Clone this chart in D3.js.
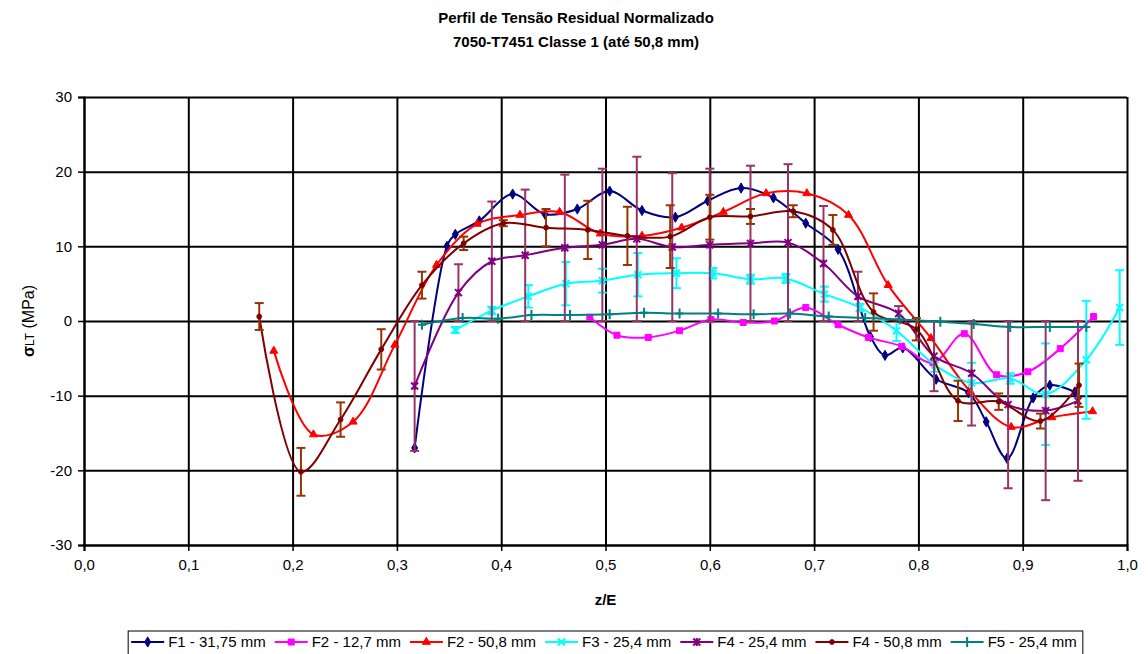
<!DOCTYPE html>
<html>
<head>
<meta charset="utf-8">
<script src="https://cdn.jsdelivr.net/npm/d3@7/dist/d3.min.js"></script>
<style>
	body { margin: 0; background: #fff; }
	svg { font-family: Arial, "Liberation Sans", sans-serif; }
</style>
</head>
<body>
<svg id="chart" width="1148" height="654"></svg>
<script>
// axis ticks
const xTicks = [0, 0.1, 0.2, 0.3, 0.4, 0.5, 0.6, 0.7, 0.8, 0.9, 1.0];
const yTicks = [-30, -20, -10, 0, 10, 20, 30];

// F1 - 31,75 mm
const f1Z = [0.317, 0.348, 0.356, 0.379, 0.411, 0.442, 0.473, 0.504, 0.535, 0.567, 0.598, 0.630, 0.661, 0.692, 0.723, 0.754, 0.768, 0.785, 0.817, 0.848, 0.865, 0.885, 0.910, 0.926, 0.950];
const f1S = [-17.0, 10.0, 11.6, 13.4, 17.0, 14.3, 15.0, 17.4, 14.8, 13.9, 16.1, 17.8, 16.5, 13.1, 9.6, -2.1, -4.6, -3.6, -7.8, -9.6, -13.5, -18.4, -10.3, -8.6, -9.5];

// F2 - 12,7 mm
const f2aZ = [0.485, 0.511, 0.541, 0.571, 0.601, 0.632, 0.662, 0.692, 0.723, 0.752, 0.784, 0.814, 0.844, 0.875, 0.905, 0.936, 0.968];
const f2aS = [0.5, -1.9, -2.2, -1.3, 0.2, -0.2, 0.0, 1.8, -0.5, -2.2, -3.4, -5.6, -1.7, -7.2, -6.8, -3.7, 0.6];

// F2 - 50,8 mm
const f2bZ = [0.182, 0.220, 0.258, 0.298, 0.338, 0.377, 0.418, 0.456, 0.495, 0.535, 0.573, 0.613, 0.654, 0.693, 0.733, 0.771, 0.812, 0.850, 0.889, 0.928, 0.967];
const f2bS = [-4.0, -15.2, -13.5, -3.2, 7.5, 13.0, 14.2, 14.6, 11.7, 11.4, 12.5, 14.6, 17.1, 17.1, 14.2, 4.8, -2.3, -9.5, -14.2, -12.9, -12.1];

// F3 - 25,4 mm
const f3Z = [0.356, 0.391, 0.426, 0.462, 0.497, 0.531, 0.568, 0.603, 0.639, 0.673, 0.710, 0.744, 0.779, 0.816, 0.851, 0.888, 0.922, 0.961, 0.993];
const f3S = [-1.2, 1.4, 3.3, 5.0, 5.4, 6.2, 6.4, 6.4, 5.6, 5.7, 3.6, 1.8, -1.3, -5.9, -8.3, -7.7, -9.8, -5.2, 1.8];
const f3Err = [0.4, 0.5, 1.5, 2.9, 1.6, 2.9, 2.0, 0.7, 0.6, 0.6, 1.0, 0.5, 1.4, 0.9, 2.7, 0.7, 6.8, 7.9, 5.0];

// F4 - 25,4 mm
const f4aZ = [0.317, 0.359, 0.391, 0.423, 0.461, 0.497, 0.530, 0.564, 0.600, 0.639, 0.675, 0.709, 0.742, 0.781, 0.815, 0.851, 0.886, 0.922, 0.953];
const f4aS = [-8.7, 3.8, 8.0, 8.8, 9.8, 10.2, 11.0, 9.9, 10.2, 10.4, 10.5, 7.7, 3.3, 1.0, -4.7, -7.0, -11.2, -12.0, -10.7];
const f4aErr = [8.7, 3.8, 8.0, 8.8, 9.8, 10.2, 11.0, 9.9, 10.2, 10.4, 10.5, 7.7, 3.3, 1.0, 4.7, 7.0, 11.2, 12.0, 10.7];

// F4 - 50,8 mm
const f4bZ = [0.168, 0.208, 0.246, 0.285, 0.324, 0.364, 0.402, 0.443, 0.483, 0.521, 0.562, 0.600, 0.639, 0.680, 0.718, 0.757, 0.798, 0.838, 0.877, 0.917, 0.954];
const f4bS = [0.6, -20.2, -13.2, -3.8, 4.8, 10.4, 13.1, 12.5, 12.2, 11.4, 11.3, 13.9, 14.0, 14.7, 12.2, 1.2, -1.1, -10.7, -10.8, -13.4, -8.6];
const f4bErr = [1.8, 3.2, 2.3, 2.7, 1.8, 0.9, 0.4, 2.5, 3.9, 3.9, 4.2, 3.0, 1.0, 0.8, 2.0, 2.5, 1.5, 2.7, 1.1, 1.0, 2.9];

// F5 - 25,4 mm
const f5Z = [0.324, 0.363, 0.397, 0.429, 0.466, 0.504, 0.537, 0.571, 0.608, 0.642, 0.677, 0.714, 0.749, 0.782, 0.821, 0.853, 0.888, 0.926, 0.961];
const f5S = [-0.5, 0.4, 0.3, 0.8, 0.8, 0.9, 1.1, 1.0, 1.0, 0.9, 1.0, 0.6, 0.4, 0.2, -0.1, -0.4, -0.8, -0.8, -0.8];

const series = [
	{ label: "F1 - 31,75 mm", z: f1Z, s: f1S, color: "#000080", marker: "diamond" },
	{ label: "F2 - 12,7 mm", z: f2aZ, s: f2aS, color: "#FF00FF", marker: "square" },
	{ label: "F2 - 50,8 mm", z: f2bZ, s: f2bS, color: "#FF0000", marker: "triangle" },
	{ label: "F3 - 25,4 mm", z: f3Z, s: f3S, err: f3Err, errColor: "#00FFFF", color: "#00FFFF", marker: "x" },
	{ label: "F4 - 25,4 mm", z: f4aZ, s: f4aS, err: f4aErr, errColor: "#993366", color: "#800080", marker: "star" },
	{ label: "F4 - 50,8 mm", z: f4bZ, s: f4bS, err: f4bErr, errColor: "#993300", color: "#800000", marker: "circle" },
	{ label: "F5 - 25,4 mm", z: f5Z, s: f5S, color: "#008080", marker: "plus" },
];

const margin = { top: 97, right: 21, bottom: 109, left: 84 };
const fullWidth = 1148, fullHeight = 654;
const width = fullWidth - margin.left - margin.right;
const height = fullHeight - margin.top - margin.bottom;

const locale = d3.formatLocale({ decimal: ",", thousands: ".", grouping: [3], currency: ["", ""], minus: "-" });
const xFormat = locale.format(".1f");
const yFormat = locale.format("d");

const svg = d3.select("#chart");

// Title
svg.append("text")
	.attr("x", 576).attr("y", 23)
	.attr("text-anchor", "middle")
	.attr("font-weight", "bold").attr("font-size", 15)
	.text("Perfil de Tensão Residual Normalizado");
svg.append("text")
	.attr("x", 576).attr("y", 47)
	.attr("text-anchor", "middle")
	.attr("font-weight", "bold").attr("font-size", 15)
	.text("7050-T7451 Classe 1 (até 50,8 mm)");

const g = svg.append("g")
	.attr("transform", "translate(" + margin.left + "," + margin.top + ")");

const x = d3.scaleLinear().domain([0, 1]).range([0, width]);
const y = d3.scaleLinear().domain([-30, 30]).range([height, 0]);

// grid lines
g.append("g")
	.classed("grid", true)
	.call(d3.axisLeft(y).tickValues(yTicks).tickSize(-width).tickFormat(""))
	.call(a => a.select(".domain").remove())
	.selectAll("line").attr("stroke", "#000").attr("stroke-width", 2);
g.append("g")
	.classed("grid", true)
	.attr("transform", "translate(0," + height + ")")
	.call(d3.axisBottom(x).tickValues(xTicks).tickSize(-height).tickFormat(""))
	.call(a => a.select(".domain").remove())
	.selectAll("line").attr("stroke", "#000").attr("stroke-width", 2);

// Y axis
const yAxis = g.append("g")
	.call(d3.axisLeft(y).tickValues(yTicks).tickSize(6).tickPadding(6).tickFormat(yFormat));
yAxis.select(".domain").attr("stroke", "#000").attr("stroke-width", 2);
yAxis.selectAll("line").attr("stroke", "#000").attr("stroke-width", 1.5);
yAxis.selectAll("text").attr("font-size", 15).attr("fill", "#000").attr("font-family", "Arial, 'Liberation Sans', sans-serif");

// X axis
const xAxis = g.append("g")
	.attr("transform", "translate(0," + height + ")")
	.call(d3.axisBottom(x).tickValues(xTicks).tickSize(6).tickPadding(8).tickFormat(xFormat));
xAxis.select(".domain").attr("stroke", "#000").attr("stroke-width", 2);
xAxis.selectAll("line").attr("stroke", "#000").attr("stroke-width", 1.5);
xAxis.selectAll("text").attr("font-size", 15).attr("fill", "#000").attr("font-family", "Arial, 'Liberation Sans', sans-serif");

// Axis titles
svg.append("text")
	.attr("x", margin.left + width / 2).attr("y", 605)
	.attr("text-anchor", "middle")
	.attr("font-weight", "bold").attr("font-size", 15)
	.text("z/E");
const yTitle = svg.append("text")
	.attr("transform", "translate(34," + (margin.top + height / 2) + ") rotate(-90)")
	.attr("text-anchor", "middle")
	.attr("font-size", 16);
yTitle.append("tspan").attr("font-weight", "bold").text("σ");
yTitle.append("tspan").attr("font-size", 12).text("LT");
yTitle.append("tspan").text(" (MPa)");

function markerPath(type) {
	switch (type) {
		case "diamond": return d3.symbol(d3.symbolDiamond, 30)();
		case "square": return d3.symbol(d3.symbolSquare, 36)();
		case "triangle": return d3.symbol(d3.symbolTriangle, 28)();
		case "circle": return d3.symbol(d3.symbolCircle, 18)();
		case "plus": return "M-4,0H4M0,-5V5";
		case "x": return "M-3.5,-3.5L3.5,3.5M-3.5,3.5L3.5,-3.5";
		case "star": return "M-3.5,-3.5L3.5,3.5M-3.5,3.5L3.5,-3.5M0,-4V4";
	}
}
const filledMarkers = ["diamond", "square", "triangle", "circle"];

const line = d3.line()
	.x(d => x(d[0]))
	.y(d => y(d[1]))
	.curve(d3.curveCatmullRom.alpha(0.5));

for (const s of series) {
	const pts = s.z.map((z, i) => [z, s.s[i], s.err ? s.err[i] : 0]);
	const sg = g.append("g").classed("series", true);
	sg.append("path")
		.datum(pts)
		.attr("fill", "none")
		.attr("stroke", s.color)
		.attr("stroke-width", 2)
		.attr("d", line);
	if (s.err) {
		const eb = sg.selectAll(".err")
			.data(pts)
			.enter()
			.append("g")
			.classed("err", true)
			.attr("stroke", s.errColor)
			.attr("stroke-width", 2);
		eb.append("line")
			.attr("x1", d => x(d[0])).attr("x2", d => x(d[0]))
			.attr("y1", d => y(d[1] + d[2])).attr("y2", d => y(d[1] - d[2]));
		eb.append("line")
			.attr("x1", d => x(d[0]) - 4.5).attr("x2", d => x(d[0]) + 4.5)
			.attr("y1", d => y(d[1] + d[2])).attr("y2", d => y(d[1] + d[2]));
		eb.append("line")
			.attr("x1", d => x(d[0]) - 4.5).attr("x2", d => x(d[0]) + 4.5)
			.attr("y1", d => y(d[1] - d[2])).attr("y2", d => y(d[1] - d[2]));
	}
	const filled = filledMarkers.includes(s.marker);
	sg.selectAll(".marker")
		.data(pts)
		.enter()
		.append("path")
		.classed("marker", true)
		.attr("transform", d => "translate(" + x(d[0]) + "," + y(d[1]) + ")")
		.attr("d", markerPath(s.marker))
		.attr("fill", filled ? s.color : "none")
		.attr("stroke", s.color)
		.attr("stroke-width", filled ? 1 : 2);
}

// Legend
const legend = svg.append("g").classed("legend", true);
const legendBox = legend.append("rect")
	.attr("fill", "#fff")
	.attr("stroke", "#000")
	.attr("stroke-width", 1);
let lx = 3;
const legendY = 642;
for (const s of series) {
	const item = legend.append("g").attr("transform", "translate(" + lx + ",0)");
	item.append("line")
		.attr("x1", 0).attr("x2", 33)
		.attr("y1", legendY).attr("y2", legendY)
		.attr("stroke", s.color).attr("stroke-width", 2);
	item.append("path")
		.attr("transform", "translate(16.5," + legendY + ")")
		.attr("d", markerPath(s.marker))
		.attr("fill", filledMarkers.includes(s.marker) ? s.color : "none")
		.attr("stroke", s.color)
		.attr("stroke-width", filledMarkers.includes(s.marker) ? 1 : 2);
	const t = item.append("text")
		.attr("x", 37).attr("y", legendY + 5)
		.attr("font-size", 15)
		.text(s.label);
	lx += 37 + t.node().getComputedTextLength() + 9;
}
const legendWidth = lx - 3;
const legendLeft = margin.left + width / 2 - legendWidth / 2;
legend.attr("transform", "translate(" + legendLeft + ",0)");
legendBox.attr("x", 0).attr("y", 631).attr("width", legendWidth).attr("height", 24);
</script>
</body>
</html>
